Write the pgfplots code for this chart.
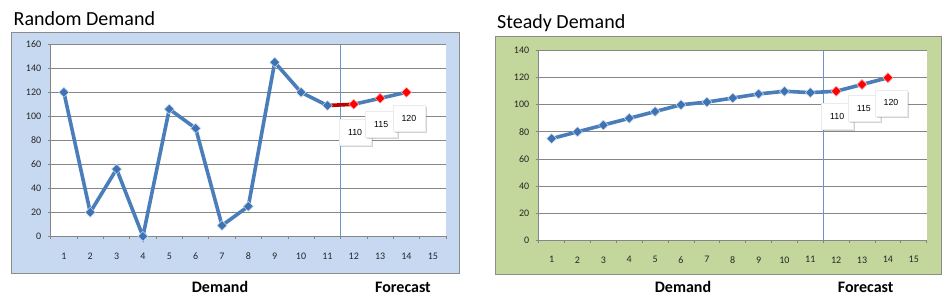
\documentclass[border=0pt]{standalone}
\usepackage{pgfplots}
\pgfplotsset{compat=1.18}
\usepackage{fontspec}
\setmainfont{Carlito}
\newfontfamily\arialf{Liberation Sans}
\usetikzlibrary{shadows}
\definecolor{bgblue}{HTML}{C6D9F1}
\definecolor{bggreen}{HTML}{C3D69B}
\definecolor{lineblue}{HTML}{4A7EBB}
\definecolor{markblue}{HTML}{3D72B5}
\definecolor{gridgray}{HTML}{868686}
\definecolor{framegray}{HTML}{8C8C8C}
\definecolor{vblue}{HTML}{6A93CC}
\definecolor{darkred}{HTML}{C00000}
\pgfplotsset{
  dem/.style={
    scale only axis,
    axis background/.style={fill=white},
    axis x line*=bottom, axis y line*=left,
    axis line style={draw=gridgray, line width=0.7pt},
    xmin=0.5, xmax=15.5, ymin=0,
    xtick={0.5,1.5,...,15.5},
    x tick label as interval,
    xticklabels={1,2,3,4,5,6,7,8,9,10,11,12,13,14,15},
    ymajorgrids, grid style={draw=gridgray, line width=0.7pt},
    tick align=outside, major tick length=3pt,
    tick style={draw=gridgray, line width=0.7pt},
    ticklabel style={font=\fontsize{10}{11}\selectfont, text=black!85},
    xticklabel style={yshift=-10pt},
    yticklabel style={xshift=-3pt},
    /pgf/number format/assume math mode=true,
    clip=false,
  },
  bline/.style={color=lineblue, line width=3.6pt, mark=square*, mark size=3.5pt,
    mark options={rotate=45, fill=markblue, draw=white!75!markblue, line width=0.5pt}},
  rline/.style={color=lineblue, line width=3.6pt, mark=square*, mark size=3.5pt,
    mark options={rotate=45, fill=red, draw=white!70!red, line width=0.5pt}},
  vline/.style={color=vblue, line width=0.7pt},
}
\tikzset{callout/.style={fill=white, draw=black!8, line width=0.4pt,
  drop shadow={shadow xshift=2pt, shadow yshift=-2pt, opacity=0.35},
  minimum width=32pt, minimum height=26pt, inner sep=0pt,
  font=\arialf\fontsize{8.8}{10}\selectfont}}
\begin{document}
\begin{tikzpicture}
\useasboundingbox (0pt,0pt) rectangle (945pt,305pt);
\filldraw[fill=bgblue, draw=framegray, line width=0.8pt] (11.7pt,32pt) rectangle (459pt,272.7pt);
\filldraw[fill=bggreen, draw=framegray, line width=0.8pt] (495.7pt,31pt) rectangle (941pt,268.3pt);
\node[anchor=base west, inner sep=0pt, font=\fontsize{20}{23}\selectfont] at (13.5pt,279pt) {Random Demand};
\node[anchor=base west, inner sep=0pt, font=\fontsize{20}{23}\selectfont] at (497pt,276.3pt) {Steady Demand};
\node[anchor=base, inner sep=0pt, font=\bfseries\fontsize{16}{18}\selectfont] at (220pt,12.7pt) {Demand};
\node[anchor=base, inner sep=0pt, font=\bfseries\fontsize{16}{18}\selectfont] at (403pt,12.7pt) {Forecast};
\node[anchor=base, inner sep=0pt, font=\bfseries\fontsize{16}{18}\selectfont] at (683pt,12.7pt) {Demand};
\node[anchor=base, inner sep=0pt, font=\bfseries\fontsize{16}{18}\selectfont] at (865.7pt,12.7pt) {Forecast};

\begin{axis}[dem, at={(50.7pt,68.7pt)}, width=395.3pt, height=192pt,
  ymax=160, ytick={0,20,...,160}]
\addplot[vline] coordinates {(11.5,0) (11.5,160)};
\addplot[color=darkred, line width=3.6pt] coordinates {(11,109) (12,110)};
\addplot[bline] coordinates {(1,120) (2,20) (3,56) (4,0) (5,106) (6,90) (7,9) (8,25) (9,145) (10,120) (11,109)};
\addplot[rline] coordinates {(12,110) (13,115) (14,120)};
\node[callout] at (axis cs:12.05,86.9) {110};
\node[callout] at (axis cs:13.04,93.2) {115};
\node[callout] at (axis cs:14.09,98.3) {120};
\end{axis}

\begin{axis}[dem, at={(538.7pt,65pt)}, width=388pt, height=189.3pt,
  ymax=140, ytick={0,20,...,140}]
\addplot[vline] coordinates {(11.5,0) (11.5,140)};
\addplot[bline] coordinates {(1,75) (2,80) (3,85) (4,90) (5,95) (6,100) (7,102) (8,105) (9,108) (10,110) (11,109) (12,110) (13,115) (14,120)};
\addplot[rline, draw=none] coordinates {(12,110) (13,115) (14,120)};
\node[callout] at (axis cs:12.04,91.2) {110};
\node[callout] at (axis cs:13.07,97.4) {115};
\node[callout] at (axis cs:14.12,101.5) {120};
\end{axis}
\end{tikzpicture}
\end{document}
